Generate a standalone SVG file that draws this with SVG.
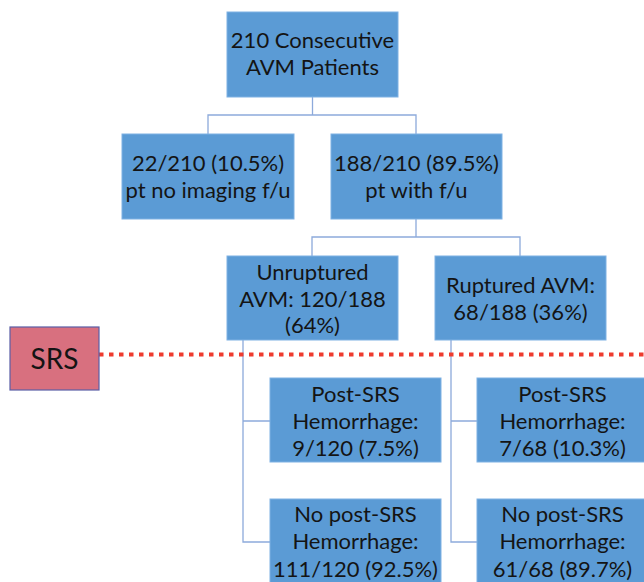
<svg xmlns="http://www.w3.org/2000/svg" width="644" height="582" viewBox="0 0 644 582">
<style>
.box{fill:#5B9BD5;stroke:#7FB1E3;stroke-width:1}
.t{font-family:Lato,"Open Sans","Liberation Sans",sans-serif;font-size:22px;fill:#141414;text-anchor:middle}
.c{fill:none;stroke:#8DAADB;stroke-width:1.3}
</style>
<rect width="644" height="582" fill="#ffffff"/>
<g id="connectors">
<path class="c" d="M312.5 97 V115 M208 134 V115 H416 V134"/>
<path class="c" d="M416 219 V237 M312 256 V237 H520 V256"/>
<path class="c" d="M243 339 V542 H270 M243 421 H270"/>
<path class="c" d="M451 339 V542 H477 M451 421 H477"/>
<line x1="99" y1="354.5" x2="644" y2="354.5" stroke="#EE3B2E" stroke-width="4" stroke-dasharray="4.5 5.5"/>
</g>
<g id="n-top">
<rect class="box" x="227" y="12" width="171" height="85"/>
<text class="t" x="312.5" y="48">210 Consecutive</text>
<text class="t" x="312.5" y="75">AVM Patients</text>
</g>
<g id="n-nofu">
<rect class="box" x="122" y="134" width="172" height="85"/>
<text class="t" x="208" y="171">22/210 (10.5%)</text>
<text class="t" x="208" y="198">pt no imaging f/u</text>
</g>
<g id="n-fu">
<rect class="box" x="331" y="134" width="171" height="85"/>
<text class="t" x="416.5" y="171">188/210 (89.5%)</text>
<text class="t" x="416.5" y="198">pt with f/u</text>
</g>
<g id="n-unruptured">
<rect class="box" x="227" y="256" width="171" height="84"/>
<text class="t" x="312.5" y="280">Unruptured</text>
<text class="t" x="312.5" y="306.5">AVM: 120/188</text>
<text class="t" x="312.5" y="333">(64%)</text>
</g>
<g id="n-ruptured">
<rect class="box" x="435" y="256" width="171" height="84"/>
<text class="t" x="520.5" y="293">Ruptured AVM:</text>
<text class="t" x="520.5" y="319.5">68/188 (36%)</text>
</g>
<g id="n-srs">
<rect x="10" y="327" width="89" height="63" fill="#D8707F" stroke="#5A5EA6" stroke-width="1.2"/>
<text x="54.5" y="369" font-family="Lato,'Open Sans','Liberation Sans',sans-serif" font-size="28" fill="#141414" text-anchor="middle">SRS</text>
</g>
<g id="n-unr-hem">
<rect class="box" x="270" y="378" width="171" height="84"/>
<text class="t" x="355.5" y="402">Post-SRS</text>
<text class="t" x="355.5" y="429">Hemorrhage:</text>
<text class="t" x="355.5" y="456">9/120 (7.5%)</text>
</g>
<g id="n-rup-hem">
<rect class="box" x="477" y="378" width="171" height="84"/>
<text class="t" x="562.5" y="402">Post-SRS</text>
<text class="t" x="562.5" y="429">Hemorrhage:</text>
<text class="t" x="562.5" y="456">7/68 (10.3%)</text>
</g>
<g id="n-unr-nohem">
<rect class="box" x="270" y="499" width="171" height="90"/>
<text class="t" x="355.5" y="522">No post-SRS</text>
<text class="t" x="355.5" y="549">Hemorrhage:</text>
<text class="t" x="355.5" y="577">111/120 (92.5%)</text>
</g>
<g id="n-rup-nohem">
<rect class="box" x="477" y="499" width="171" height="90"/>
<text class="t" x="562.5" y="522">No post-SRS</text>
<text class="t" x="562.5" y="549">Hemorrhage:</text>
<text class="t" x="562.5" y="577">61/68 (89.7%)</text>
</g>
</svg>
